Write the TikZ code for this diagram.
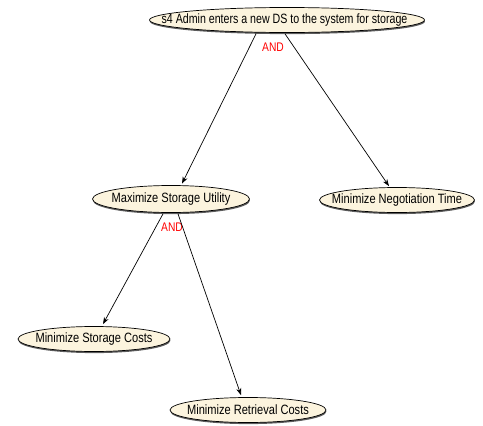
\documentclass[tikz,border=0pt]{standalone}
\usepackage{fontspec}
\setmainfont[FakeStretch=0.82]{Liberation Sans}
\usetikzlibrary{shapes.geometric,shadows,arrows.meta}
\definecolor{goalfill}{HTML}{FCF4DE}
% goal text is set in a zero-width box so the ellipse keeps its given size
\newcommand{\goaltext}[1]{\makebox[0pt]{#1}}
\begin{document}
\begin{tikzpicture}[x=1pt,y=-1pt,
  goal/.style={ellipse, draw=black, line width=0.7pt, fill=goalfill,
    inner sep=0pt, minimum height=25pt, font=\fontsize{13.5}{15}\selectfont,
    drop shadow={shadow xshift=0.4pt, shadow yshift=-1.6pt, fill=black!75, opacity=0.85}},
  link/.style={draw=black, line width=0.7pt, -{Stealth[length=7pt,width=5pt]}},
  andlbl/.style={text=red, font=\fontsize{12.5}{13}\selectfont, inner sep=0pt}]
\useasboundingbox (0,0) rectangle (483,426);

\node[goal, minimum width=275pt] (top) at (287,20) {\goaltext{\hspace*{-5pt}\scalebox{0.96}[1]{s4 Admin enters a new DS to the system for storage}}};
\node[goal, minimum width=157pt, minimum height=27pt] (msu) at (171,199) {\goaltext{Maximize Storage Utility}};
\node[goal, minimum width=155pt] (mnt) at (397,200) {\goaltext{Minimize Negotiation Time}};
\node[goal, minimum width=152pt] (msc) at (94,339) {\goaltext{Minimize Storage Costs}};
\node[goal, minimum width=156pt] (mrc) at (248,410) {\goaltext{Minimize Retrieval Costs}};

\node[andlbl] (and1) at (273,47) {AND};
\node[andlbl] (and2) at (172,227) {AND};

\draw[link] ([xshift=-31pt,yshift=-1pt]top.south) -- ([xshift=11pt,yshift=1.5pt]msu.north);
\draw[link] ([xshift=-2pt,yshift=-1pt]top.south) -- ([xshift=-8pt,yshift=1pt]mnt.north);
\draw[link] ([xshift=-8pt,yshift=-1pt]msu.south) -- ([xshift=9pt,yshift=2pt]msc.north);
\draw[link] ([xshift=7pt,yshift=-1pt]msu.south) -- ([xshift=-7pt,yshift=2pt]mrc.north);
\end{tikzpicture}
\end{document}
